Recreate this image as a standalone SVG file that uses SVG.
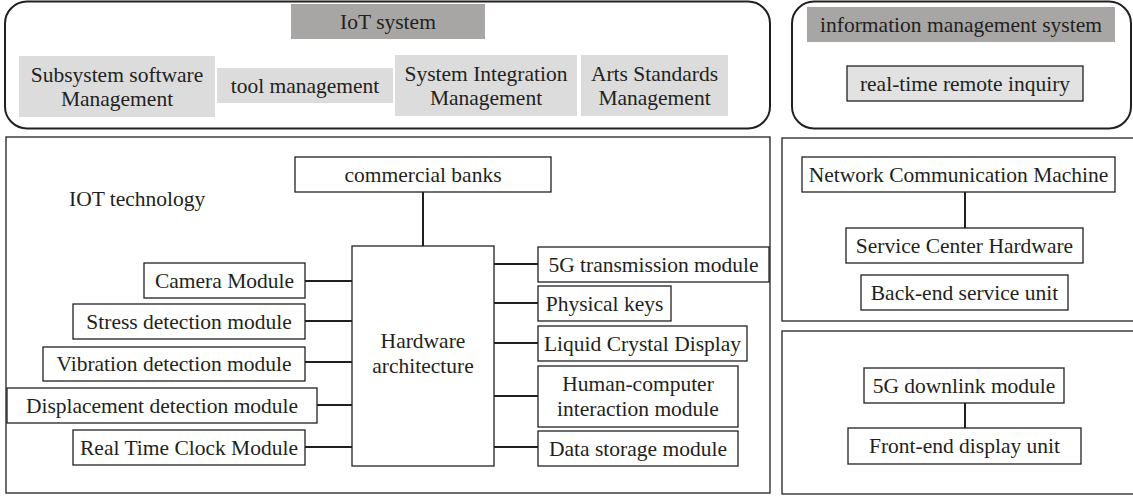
<svg xmlns="http://www.w3.org/2000/svg" width="1133" height="496" viewBox="0 0 1133 496">
<style>
text{font-family:"Liberation Serif","Times New Roman",Times,Tinos,"Noto Serif","DejaVu Serif",FreeSerif,serif;font-size:21.5px;fill:#231f20;text-anchor:middle;dominant-baseline:central}
.frame{fill:#fff;stroke:#231f20;stroke-width:2}
.box{fill:#fff;stroke:#231f20;stroke-width:1.3}
.dark{fill:#a7a6a5}
.light{fill:#dcdcdc}
.lbox{fill:#e2e2e2;stroke:#231f20;stroke-width:1.3}
.ln{stroke:#231f20;stroke-width:2;fill:none}
</style>
<rect width="1133" height="496" fill="#fff"/>
<g id="iot-system">
<rect class="frame" x="5" y="1.5" width="765" height="127" rx="22"/>
<rect class="dark" x="291" y="4" width="194" height="35"/>
<text x="388" y="21.5">IoT system</text>
</g>
<g id="subsystem-software">
<rect class="light" x="19" y="56" width="196" height="61"/>
<text x="117" y="75">Subsystem software</text>
<text x="117" y="99">Management</text>
</g>
<g id="tool-management">
<rect class="light" x="217" y="68" width="176" height="35"/>
<text x="305" y="85.5">tool management</text>
</g>
<g id="system-integration">
<rect class="light" x="395" y="55" width="182" height="61"/>
<text x="486" y="74">System Integration</text>
<text x="486" y="98">Management</text>
</g>
<g id="arts-standards">
<rect class="light" x="581" y="55" width="147" height="61"/>
<text x="654.5" y="74">Arts Standards</text>
<text x="654.5" y="98">Management</text>
</g>
<g id="info-management-system">
<rect class="frame" x="792" y="1.5" width="339" height="127" rx="22"/>
<rect class="dark" x="807" y="7" width="308" height="35"/>
<text x="961" y="24.5">information management system</text>
</g>
<g id="real-time-inquiry">
<rect class="lbox" x="847" y="66" width="236" height="35"/>
<text x="965" y="83.5">real-time remote inquiry</text>
</g>
<g id="iot-technology">
<rect class="box" x="6" y="137" width="764" height="356" stroke-width="1.6"/>
<text x="69" y="199" style="text-anchor:start">IOT technology</text>
</g>
<g id="back-end-frame">
<rect class="box" x="782" y="138" width="360" height="183" stroke-width="1.6"/>
</g>
<g id="front-end-frame">
<rect class="box" x="782" y="331" width="360" height="163" stroke-width="1.6"/>
</g>
<g id="connectors">
<path class="ln" d="M423 192V246"/>
<path class="ln" d="M305 281H352M305 321H352M305 362H352M317 405H352M305 447H352"/>
<path class="ln" d="M494 264H538M494 303H538M494 343H538M494 396H538M494 447H538"/>
<path class="ln" d="M965 192V228"/>
<path class="ln" d="M965 403V428"/>
</g>
<g id="commercial-banks">
<rect class="box" x="295" y="157" width="256" height="35"/>
<text x="423" y="174.5">commercial banks</text>
</g>
<g id="hardware-architecture">
<rect class="box" x="352" y="246" width="142" height="220"/>
<text x="423" y="341">Hardware</text>
<text x="423" y="366">architecture</text>
</g>
<g id="camera-module">
<rect class="box" x="144" y="263" width="161" height="35"/>
<text x="224.5" y="280.5">Camera Module</text>
</g>
<g id="stress-detection">
<rect class="box" x="73" y="304" width="232" height="35"/>
<text x="189" y="321.5">Stress detection module</text>
</g>
<g id="vibration-detection">
<rect class="box" x="43" y="347" width="262" height="34"/>
<text x="174" y="364">Vibration detection module</text>
</g>
<g id="displacement-detection">
<rect class="box" x="7" y="388" width="310" height="35"/>
<text x="162" y="405.5">Displacement detection module</text>
</g>
<g id="real-time-clock">
<rect class="box" x="73" y="430" width="232" height="35"/>
<text x="189" y="447.5">Real Time Clock Module</text>
</g>
<g id="5g-transmission">
<rect class="box" x="538" y="247" width="231" height="35"/>
<text x="653.5" y="264.5">5G transmission module</text>
</g>
<g id="physical-keys">
<rect class="box" x="538" y="286" width="133" height="35"/>
<text x="604.5" y="303.5">Physical keys</text>
</g>
<g id="liquid-crystal-display">
<rect class="box" x="538" y="326" width="209" height="35"/>
<text x="642.5" y="343.5">Liquid Crystal Display</text>
</g>
<g id="human-computer">
<rect class="box" x="538" y="366" width="200" height="61"/>
<text x="638" y="384">Human-computer</text>
<text x="638" y="409">interaction module</text>
</g>
<g id="data-storage">
<rect class="box" x="538" y="431" width="200" height="35"/>
<text x="638" y="448.5">Data storage module</text>
</g>
<g id="network-communication">
<rect class="box" x="802" y="157" width="313" height="35"/>
<text x="958.5" y="174.5">Network Communication Machine</text>
</g>
<g id="service-center">
<rect class="box" x="846" y="228" width="237" height="35"/>
<text x="964.5" y="245.5">Service Center Hardware</text>
</g>
<g id="back-end-service">
<rect class="box" x="861" y="275" width="207" height="35"/>
<text x="964.5" y="292.5">Back-end service unit</text>
</g>
<g id="5g-downlink">
<rect class="box" x="864" y="368" width="200" height="35"/>
<text x="964" y="385.5">5G downlink module</text>
</g>
<g id="front-end-display">
<rect class="box" x="848" y="428" width="233" height="36"/>
<text x="964.5" y="446">Front-end display unit</text>
</g>
</svg>
